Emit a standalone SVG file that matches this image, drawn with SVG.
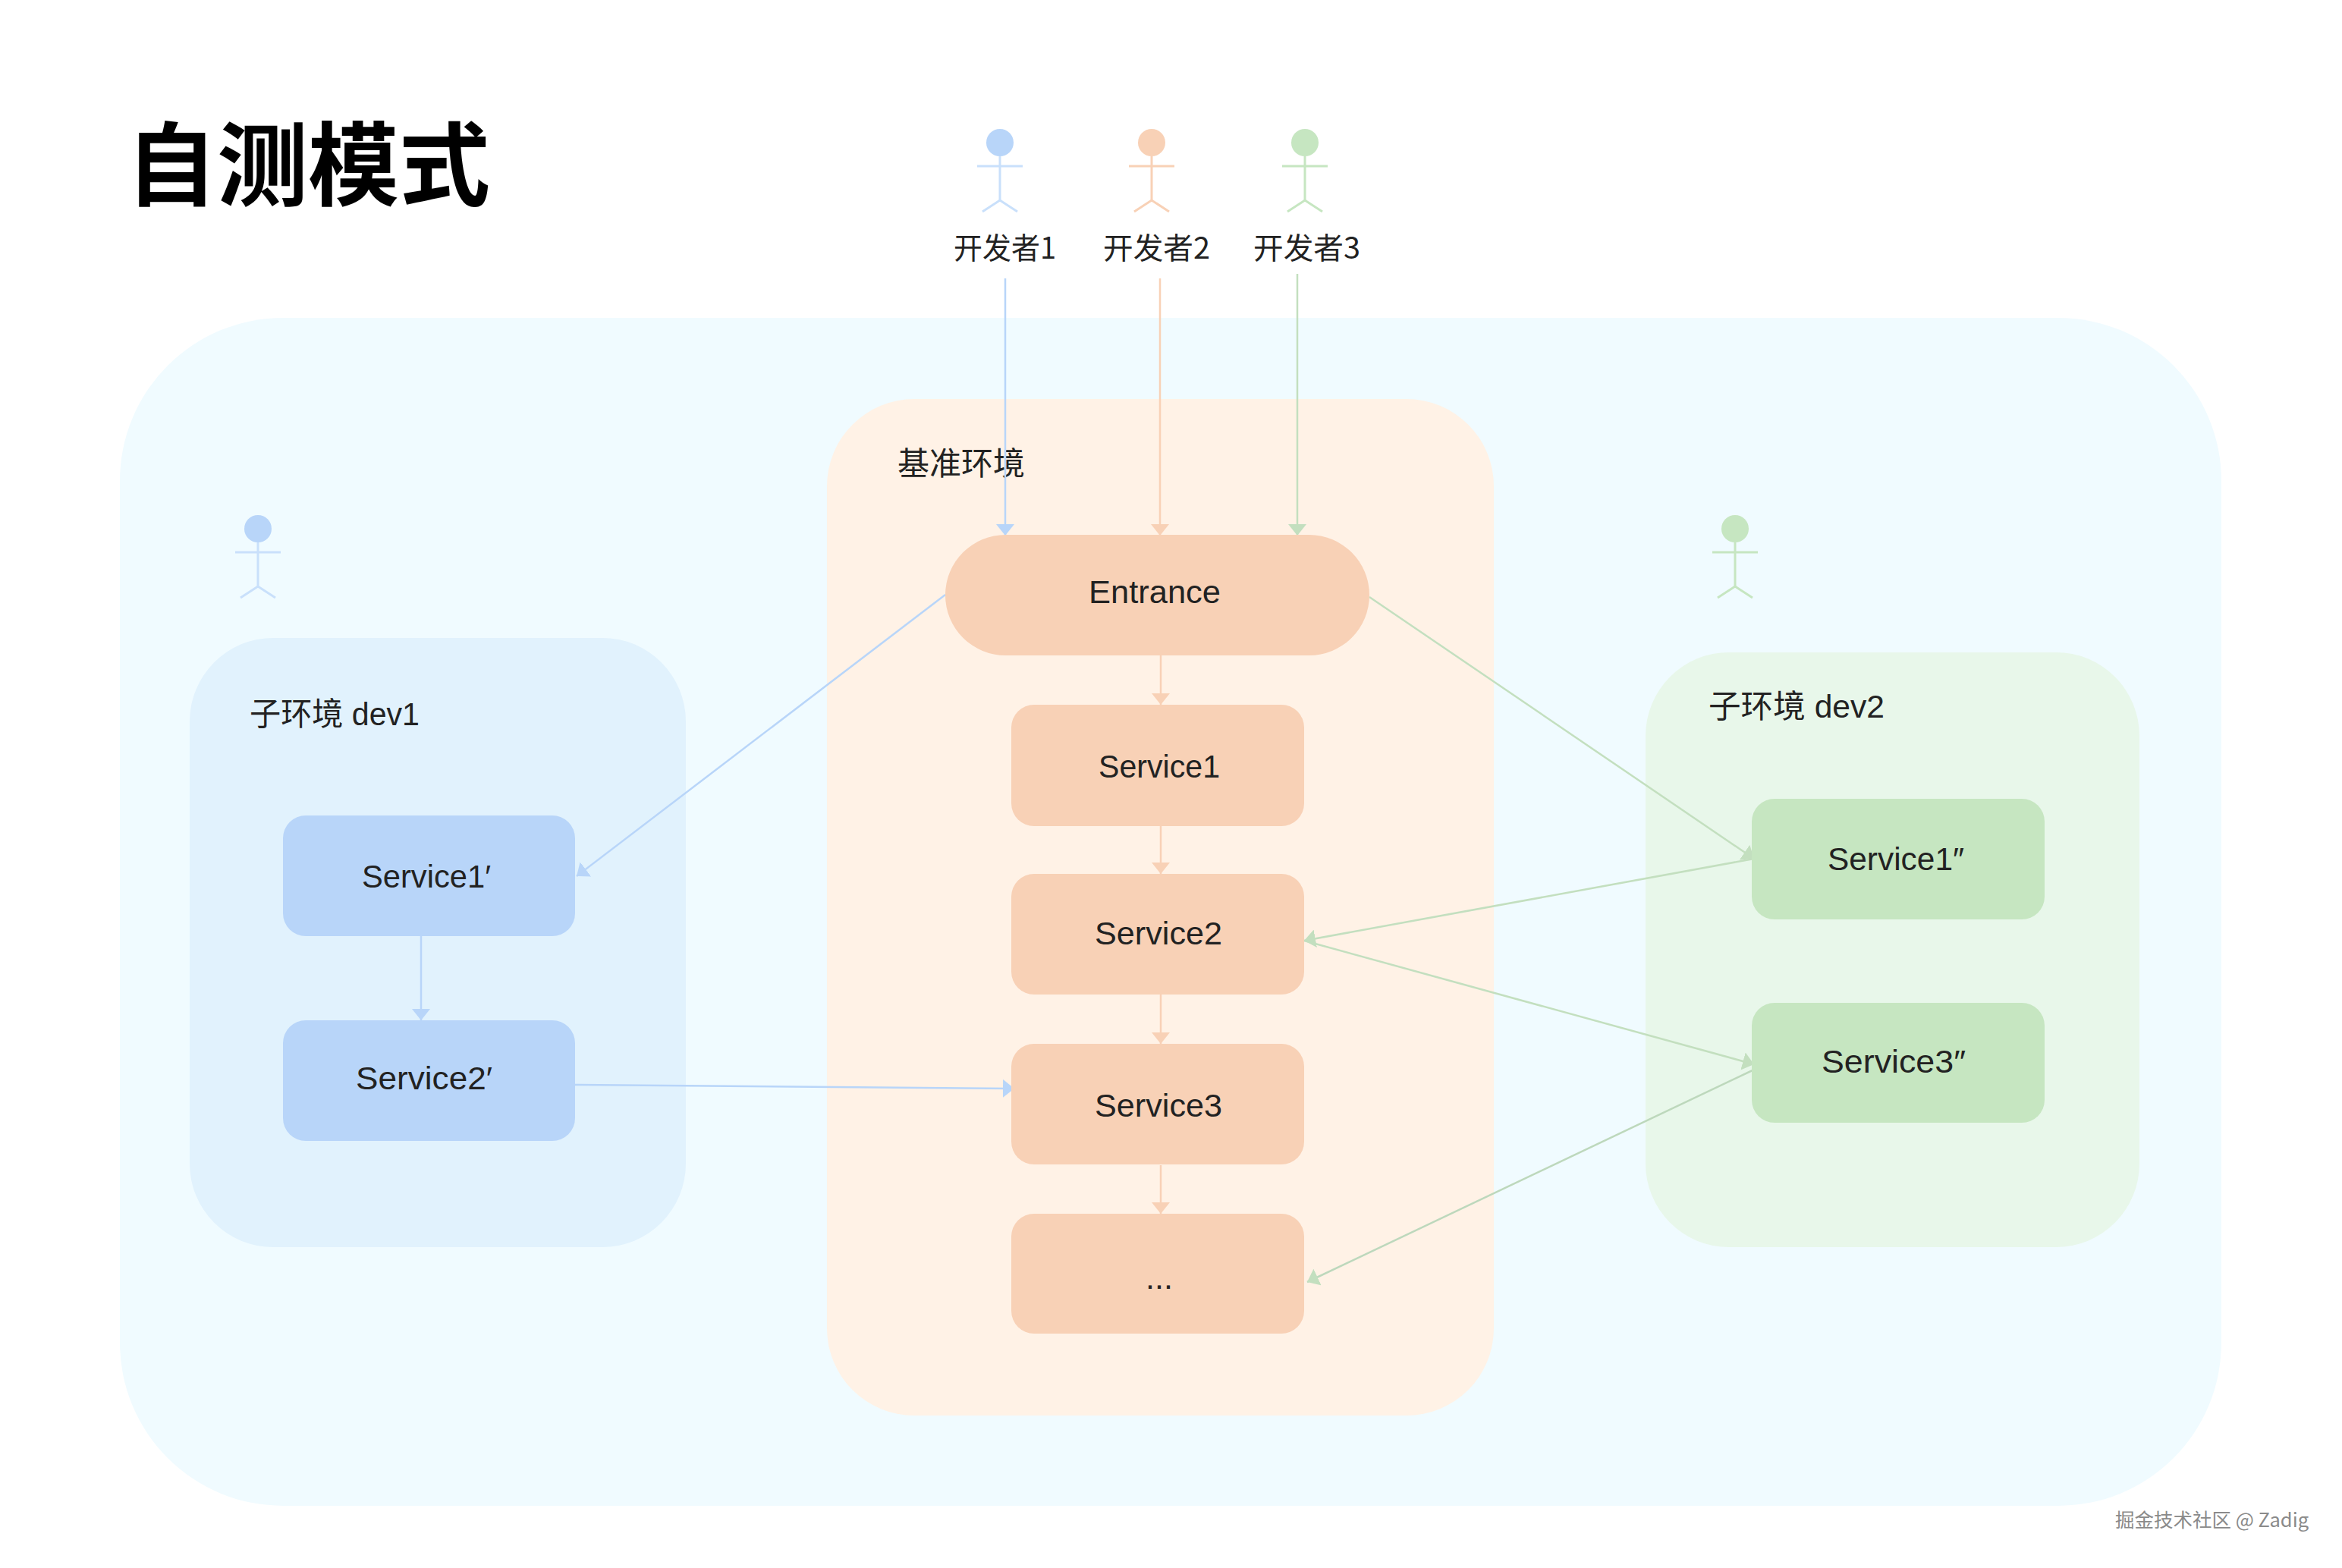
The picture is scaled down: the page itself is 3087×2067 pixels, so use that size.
<svg xmlns="http://www.w3.org/2000/svg" width="3087" height="2067" viewBox="0 0 3087 2067">
<style>
text{font-family:"Liberation Sans","Noto Sans CJK SC",sans-serif;fill:#222;font-size:43px}
.c{text-anchor:middle}
.cj{font-family:"Noto Sans CJK SC","Liberation Sans",sans-serif;font-size:42px}
.env{font-size:42px}
.who{font-family:"Noto Sans CJK SC","Liberation Sans",sans-serif;font-size:39px}
.o{fill:#F8D1B6}.b{fill:#B8D5F9}.g{fill:#C6E6C1}
.lo{stroke:#F8D1B6;fill:none;stroke-width:2.5}.lb{stroke:#B8D5F9;fill:none;stroke-width:2.5}.lg{stroke:#C3DFBF;fill:none;stroke-width:2.5}
.lg2{stroke:#BDD8BC;fill:none;stroke-width:2.5}
</style>
<defs>
<marker id="ao" markerUnits="userSpaceOnUse" markerWidth="16" markerHeight="24" refX="15" refY="12" orient="auto"><path d="M0 0L15 12L0 24Z" fill="#F8D1B6"/></marker>
<marker id="ab" markerUnits="userSpaceOnUse" markerWidth="16" markerHeight="24" refX="15" refY="12" orient="auto"><path d="M0 0L15 12L0 24Z" fill="#B8D5F9"/></marker>
<marker id="ag" markerUnits="userSpaceOnUse" markerWidth="16" markerHeight="24" refX="15" refY="12" orient="auto"><path d="M0 0L15 12L0 24Z" fill="#C3DFBF"/></marker>
<g id="actor"><line x1="-30" y1="31" x2="30" y2="31"/><line x1="0" y1="18" x2="0" y2="76"/><path d="M-23 91L0 76L23 91" fill="none"/></g>
</defs>
<rect width="3087" height="2067" fill="#fff"/>
<g id="outer"><rect x="158" y="419" width="2770" height="1566" rx="215" fill="#F0FBFF"/></g>
<g id="base-env"><rect x="1090" y="526" width="879" height="1340" rx="115" fill="#FFF2E6"/><text class="cj" x="1183" y="626">基准环境</text></g>
<g id="dev1-env"><rect x="250" y="841" width="654" height="803" rx="110" fill="#E1F2FD"/><text class="env" x="329" y="956" textLength="224" lengthAdjust="spacingAndGlyphs"><tspan class="cj">子环境</tspan> dev1</text></g>
<g id="dev2-env"><rect x="2169" y="860" width="651" height="784" rx="110" fill="#E8F7EA"/><text class="env" x="2252" y="946" textLength="232" lengthAdjust="spacingAndGlyphs"><tspan class="cj">子环境</tspan> dev2</text></g>
<g id="connectors">
<line class="lb" x1="1325" y1="367" x2="1325" y2="706" marker-end="url(#ab)"/>
<line class="lo" x1="1529" y1="367" x2="1529" y2="706" marker-end="url(#ao)"/>
<line class="lg" x1="1710" y1="361" x2="1710" y2="706" marker-end="url(#ag)"/>
<line class="lo" x1="1530" y1="864" x2="1530" y2="929" marker-end="url(#ao)"/>
<line class="lo" x1="1530" y1="1089" x2="1530" y2="1152" marker-end="url(#ao)"/>
<line class="lo" x1="1530" y1="1311" x2="1530" y2="1376" marker-end="url(#ao)"/>
<line class="lo" x1="1530" y1="1536" x2="1530" y2="1600" marker-end="url(#ao)"/>
<line class="lb" x1="1246" y1="784" x2="760" y2="1155" marker-end="url(#ab)"/>
<line class="lb" x1="555" y1="1234" x2="555" y2="1345" marker-end="url(#ab)"/>
<line class="lb" x1="758" y1="1430" x2="1337" y2="1435" marker-end="url(#ab)"/>
<line class="lg" x1="1805" y1="787" x2="2312" y2="1132" marker-end="url(#ag)"/>
<line class="lg" x1="2312" y1="1132" x2="1719" y2="1240" marker-end="url(#ag)"/>
<line class="lg" x1="1719" y1="1240" x2="2312" y2="1403" marker-end="url(#ag)"/>
<line class="lg2" x1="2312" y1="1410" x2="1723" y2="1690" marker-end="url(#ag)"/>
</g>
<g id="title"><text x="166" y="262" font-weight="700" style="font-family:'Noto Sans CJK SC',sans-serif;font-size:120px;fill:#000">自测模式</text></g>
<g id="dev-actor-1" class="b"><circle cx="1318" cy="188" r="18"/><use href="#actor" x="1318" y="188" stroke="#C9E0FB" stroke-width="3"/><text class="who" x="1257" y="341" textLength="135" lengthAdjust="spacingAndGlyphs">开发者1</text></g>
<g id="dev-actor-2" class="o"><circle cx="1518" cy="188" r="18"/><use href="#actor" x="1518" y="188" stroke="#F8D1B6" stroke-width="3"/><text class="who" x="1454" y="341" textLength="141" lengthAdjust="spacingAndGlyphs">开发者2</text></g>
<g id="dev-actor-3" class="g"><circle cx="1720" cy="188" r="18"/><use href="#actor" x="1720" y="188" stroke="#C6E6C1" stroke-width="3"/><text class="who" x="1652" y="341" textLength="141" lengthAdjust="spacingAndGlyphs">开发者3</text></g>
<g id="actor-dev1" class="b"><circle cx="340" cy="697" r="18"/><use href="#actor" x="340" y="697" stroke="#C9E0FB" stroke-width="3"/></g>
<g id="actor-dev2" class="g"><circle cx="2287" cy="697" r="18"/><use href="#actor" x="2287" y="697" stroke="#C6E6C1" stroke-width="3"/></g>
<g id="entrance"><rect class="o" x="1246" y="705" width="559" height="159" rx="79.5"/><text class="c" x="1522" y="795" textLength="174" lengthAdjust="spacingAndGlyphs">Entrance</text></g>
<g id="service1"><rect class="o" x="1333" y="929" width="386" height="160" rx="30"/><text class="c" x="1528" y="1025" textLength="160" lengthAdjust="spacingAndGlyphs">Service1</text></g>
<g id="service2"><rect class="o" x="1333" y="1152" width="386" height="159" rx="30"/><text class="c" x="1527" y="1245" textLength="168" lengthAdjust="spacingAndGlyphs">Service2</text></g>
<g id="service3"><rect class="o" x="1333" y="1376" width="386" height="159" rx="30"/><text class="c" x="1527" y="1472" textLength="168" lengthAdjust="spacingAndGlyphs">Service3</text></g>
<g id="service-more"><rect class="o" x="1333" y="1600" width="386" height="158" rx="30"/><text class="c" x="1528" y="1699">...</text></g>
<g id="service1p"><rect class="b" x="373" y="1075" width="385" height="159" rx="30"/><text class="c" x="562" y="1170" textLength="170" lengthAdjust="spacingAndGlyphs">Service1′</text></g>
<g id="service2p"><rect class="b" x="373" y="1345" width="385" height="159" rx="30"/><text class="c" x="559" y="1436" textLength="180" lengthAdjust="spacingAndGlyphs">Service2′</text></g>
<g id="service1pp"><rect class="g" x="2309" y="1053" width="386" height="159" rx="30"/><text class="c" x="2499" y="1147" textLength="180" lengthAdjust="spacingAndGlyphs">Service1″</text></g>
<g id="service3pp"><rect class="g" x="2309" y="1322" width="386" height="158" rx="30"/><text class="c" x="2496" y="1414" textLength="190" lengthAdjust="spacingAndGlyphs">Service3″</text></g>
<g id="watermark"><text x="2788" y="2013" style="font-family:'Noto Sans CJK SC',sans-serif;font-size:25.5px;fill:#8a8a8a">掘金技术社区 @ Zadig</text></g>
</svg>
